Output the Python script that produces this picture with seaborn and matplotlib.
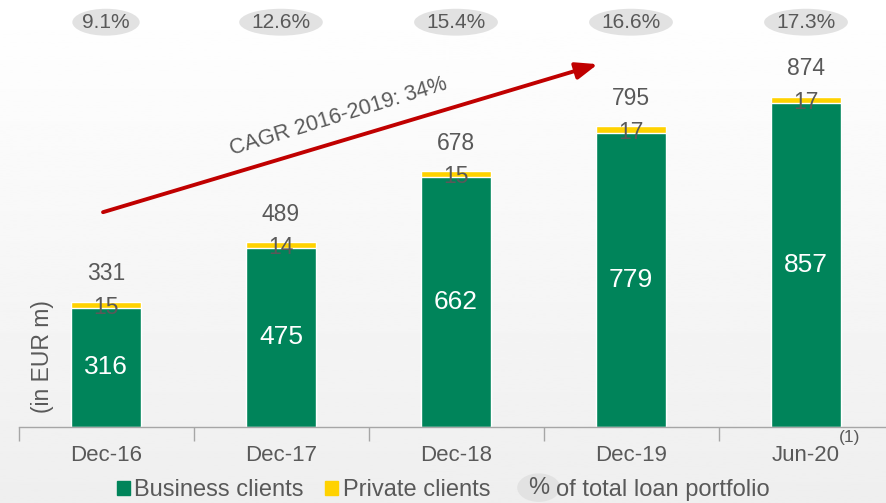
import numpy as np
import pandas as pd
import matplotlib
matplotlib.use('Agg')
import matplotlib.pyplot as plt
import matplotlib.transforms as mtransforms
from matplotlib.patches import Patch, Ellipse
from matplotlib.text import Text
from matplotlib.legend_handler import HandlerBase
import seaborn as sns

# data (EUR m)
periods = ['Dec-16', 'Dec-17', 'Dec-18', 'Dec-19', 'Jun-20']
business = [316, 475, 662, 779, 857]
private = [15, 14, 15, 17, 17]
totals = [331, 489, 678, 795, 874]
share_of_portfolio = ['9.1%', '12.6%', '15.4%', '16.6%', '17.3%']
cagr_label = 'CAGR 2016-2019: 34%'

GREEN = '#00845a'
YELLOW = '#ffd200'
GREY_TXT = '#595959'
PILL = '#e2e2e2'
RED = '#c00000'

sns.set_theme(style='white')
plt.rcParams['font.family'] = ['Liberation Sans', 'DejaVu Sans']

df = pd.DataFrame({'period': periods, 'business': business, 'private': private})
df['stack_top'] = df['business'] + df['private']

fig = plt.figure(figsize=(8.86, 5.03), dpi=100)

# soft white -> light grey background
bg = fig.add_axes([0, 0, 1, 1], zorder=-10)
grad = np.linspace(1.0, 0.935, 256).reshape(-1, 1)
bg.imshow(grad, cmap='gray', vmin=0, vmax=1, aspect='auto', extent=[0, 1, 0, 1])
bg.axis('off')

ax = fig.add_axes([18.5 / 886, 76 / 503, 875 / 886, 427 / 503])
ax.patch.set_alpha(0)

sns.barplot(data=df, x='period', y='stack_top', color=YELLOW, width=0.4,
            saturation=1, ax=ax)
sns.barplot(data=df, x='period', y='business', color=GREEN, width=0.4,
            saturation=1, ax=ax)

ax.set_xlim(-0.5, 4.5)
ax.set_ylim(0, 1131)
ax.set_xlabel('')
ax.set_ylabel('')
ax.set_yticks([])
for s in ['left', 'right', 'top']:
    ax.spines[s].set_visible(False)
ax.spines['bottom'].set_color('#a6a6a6')
ax.spines['bottom'].set_linewidth(1)

ax.set_xticks(range(len(periods)))
ax.set_xticklabels(periods, fontsize=16, color=GREY_TXT)
ax.set_xticks(np.arange(-0.5, len(periods), 1), minor=True)
ax.tick_params(axis='x', which='major', length=0, pad=13)
ax.tick_params(axis='x', which='minor', length=10, width=1, color='#a6a6a6',
               direction='out', bottom=True)

# value labels
for i in range(len(periods)):
    b, p, t = business[i], private[i], totals[i]
    ax.text(i, b / 2, str(b), ha='center', va='center', color='white', fontsize=19)
    ax.text(i, b + p / 2, str(p), ha='center', va='center_baseline',
            color=GREY_TXT, fontsize=16.5)
    ax.annotate(str(t), (i, b + p), xytext=(0, 22), textcoords='offset points',
                ha='center', va='center_baseline', color=GREY_TXT, fontsize=16.5)

# share of total loan portfolio, in grey pills at the top
top_tr = mtransforms.blended_transform_factory(ax.transData, ax.transAxes)
for i, s in enumerate(share_of_portfolio):
    ax.text(i, 0.948, s, transform=top_tr, ha='center', va='center',
            color=GREY_TXT, fontsize=15,
            bbox=dict(boxstyle='ellipse,pad=0', fc=PILL, ec='none'))

# footnote marker on last tick label
ax.text(4.25, -0.025, '(1)', transform=top_tr, ha='center', va='center',
        color=GREY_TXT, fontsize=12.5)

ax.text(0.027, 0.165, '(in EUR m)', transform=ax.transAxes, rotation=90,
        ha='center', va='center', color=GREY_TXT, fontsize=16.5)

# CAGR arrow
ax.annotate('', xy=(2.81, 961), xytext=(-0.017, 569),
            arrowprops=dict(arrowstyle='-|>,head_length=0.9,head_width=0.35',
                            mutation_scale=14.5, color=RED, lw=2.8,
                            shrinkA=0, shrinkB=0))
ax.text(1.326, 822, cagr_label, rotation=17, ha='center', va='center',
        rotation_mode='anchor', color=GREY_TXT, fontsize=15.5)


class PctHandler(HandlerBase):
    # grey ellipse with a "%" in it, reaching left of the handle box
    def create_artists(self, legend, orig_handle, xdescent, ydescent,
                       width, height, fontsize, trans):
        cx = -xdescent + 0.5
        cy = height / 2 - ydescent
        e = Ellipse((cx, cy), 31, height * 2.0, fc=PILL, ec='none',
                    transform=trans)
        t = Text(cx, cy, '%', ha='center', va='center', color=GREY_TXT,
                 fontsize=fontsize, transform=trans)
        return [e, t]


pct_handle = object()
handles = [Patch(color=GREEN), Patch(color=YELLOW), pct_handle]
labels = ['Business clients', 'Private clients    ', 'of total loan portfolio']
leg = fig.legend(handles, labels, loc='center', bbox_to_anchor=(443 / 886, 13 / 503),
                 ncol=3, frameon=False, fontsize=17, handlelength=0.55,
                 handleheight=0.55, handletextpad=0.2, columnspacing=0.9,
                 handler_map={pct_handle: PctHandler()})
for txt in leg.get_texts():
    txt.set_color(GREY_TXT)

fig.savefig('out.png', dpi=100)
